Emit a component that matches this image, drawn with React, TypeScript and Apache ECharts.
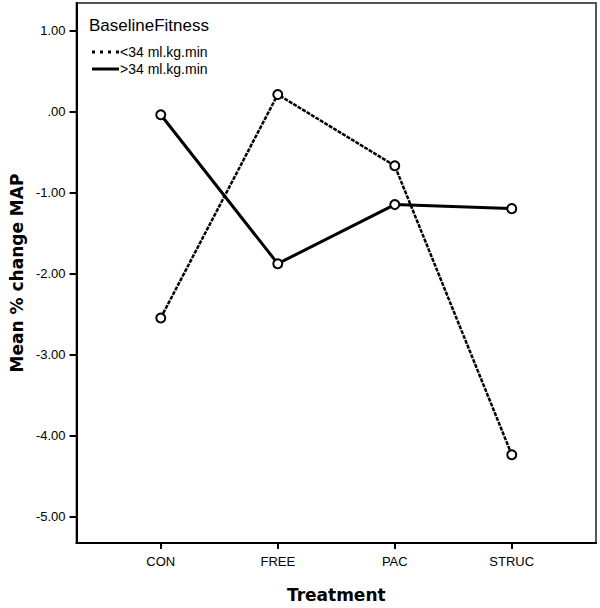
import React, { useEffect, useRef } from "react";
import * as echarts from "echarts";

const categories = ["CON", "FREE", "PAC", "STRUC"];
const seriesNames = ["<34 ml.kg.min", ">34 ml.kg.min"];
const lowFitness = [-2.55, 0.21, -0.67, -4.24];
const highFitness = [-0.04, -1.88, -1.15, -1.2];
const yTicks = [1, 0, -1, -2, -3, -4, -5];

const FONT = "Liberation Sans, Arial, sans-serif";
const BOLD_FONT = "DejaVu Sans, Verdana, sans-serif";

export default function App() {
  const ref = useRef<HTMLDivElement>(null);
  useEffect(() => {
    if (!ref.current) return;
    const chart = echarts.init(ref.current, null, { renderer: "svg" });
    const toPts = (arr: number[]) => arr.map((v, i) => [i, v]);
    chart.setOption({
      animation: false,
      backgroundColor: "#fff",
      grid: { left: 74, top: 3, right: 4, bottom: 58, show: true, borderColor: "#555", borderWidth: 2 },
      xAxis: {
        type: "value",
        min: -0.72,
        max: 3.72,
        name: "Treatment",
        nameLocation: "middle",
        nameGap: 43,
        nameTextStyle: { fontFamily: BOLD_FONT, fontWeight: "bold", fontSize: 17, color: "#000" },
        splitLine: { show: false },
        axisLine: { show: true, onZero: false, lineStyle: { color: "#000", width: 2 } },
        axisTick: { show: true, customValues: [0, 1, 2, 3], length: 6, lineStyle: { color: "#000", width: 2 } },
        axisLabel: {
          customValues: [0, 1, 2, 3],
          formatter: (v: number) => categories[Math.round(v)] ?? "",
          fontFamily: FONT,
          fontSize: 13,
          color: "#000",
          margin: 12,
        },
      },
      yAxis: {
        type: "value",
        min: -5.33,
        max: 1.34,
        name: "Mean % change MAP",
        nameLocation: "middle",
        nameGap: 50,
        nameTextStyle: { fontFamily: BOLD_FONT, fontWeight: "bold", fontSize: 17, color: "#000" },
        splitLine: { show: false },
        axisLine: { show: true, onZero: false, lineStyle: { color: "#000", width: 2 } },
        axisTick: { show: true, customValues: yTicks, length: 7, lineStyle: { color: "#000", width: 2 } },
        axisLabel: {
          customValues: yTicks,
          formatter: (v: number) => (Math.abs(v) < 1e-9 ? ".00" : v.toFixed(2)),
          fontFamily: FONT,
          fontSize: 13,
          color: "#000",
          margin: 11,
        },
      },
      series: [
        {
          name: seriesNames[0],
          type: "line",
          data: toPts(lowFitness),
          symbol: "emptyCircle",
          symbolSize: 9,
          itemStyle: { color: "#000", borderWidth: 1.2 },
          lineStyle: { color: "#000", width: 2.5, type: [4, 1.2] },
        },
        {
          name: seriesNames[1],
          type: "line",
          data: toPts(highFitness),
          symbol: "emptyCircle",
          symbolSize: 9,
          itemStyle: { color: "#000", borderWidth: 1.2 },
          lineStyle: { color: "#000", width: 3 },
        },
      ],
      graphic: [
        {
          type: "text",
          x: 89,
          y: 25,
          style: { text: "BaselineFitness", fontFamily: FONT, fontSize: 17, fill: "#000", verticalAlign: "middle" },
        },
        {
          type: "line",
          shape: { x1: 92, y1: 52, x2: 119, y2: 52 },
          style: { stroke: "#000", lineWidth: 3, lineDash: [3, 5] },
        },
        {
          type: "text",
          x: 120,
          y: 52,
          style: { text: seriesNames[0], fontFamily: FONT, fontSize: 14, fill: "#000", verticalAlign: "middle" },
        },
        {
          type: "line",
          shape: { x1: 92, y1: 69, x2: 119, y2: 69 },
          style: { stroke: "#000", lineWidth: 3 },
        },
        {
          type: "text",
          x: 120,
          y: 69,
          style: { text: seriesNames[1], fontFamily: FONT, fontSize: 14, fill: "#000", verticalAlign: "middle" },
        },
      ],
    });
    return () => chart.dispose();
  }, []);
  return <div ref={ref} style={{ width: 600, height: 608, position: "absolute", left: 0, top: 0 }} />;
}
